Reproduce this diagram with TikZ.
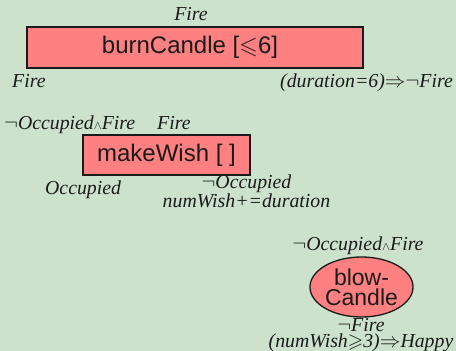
\documentclass[tikz,border=0pt]{standalone}
\usepackage{amssymb}
\usepackage{fontspec}
\setmainfont{Liberation Serif}
\setsansfont{Liberation Sans}
\usetikzlibrary{shapes.geometric}
\definecolor{bg}{HTML}{CCE2CC}
\definecolor{boxfill}{HTML}{FF8080}
\definecolor{ink}{HTML}{1A1A1A}
\newcommand{\andsym}{{\fontsize{13}{13}\selectfont$\wedge$}}
\begin{document}
\begin{tikzpicture}[x=1pt,y=-1pt,
  lbl/.style={font=\fontsize{19.8}{20}\selectfont\itshape, inner sep=0pt, text=ink},
  lbltwo/.style={lbl, align=center, font=\fontsize{19.8}{15.5}\selectfont\itshape},
  proc/.style={draw=ink, line width=1.3pt, fill=boxfill, inner sep=0pt,
    font=\sffamily\fontsize{24}{26}\selectfont, text=ink}]
\fill[bg] (0,0) rectangle (456,351);
\useasboundingbox (0,0) rectangle (456,351);
% burnCandle
\node[proc, minimum width=336pt, minimum height=41pt] (burn) at (195,47.5) {burnCandle [$\leqslant$6]\hspace*{10pt}};
\node[lbl, anchor=base] (burnTop) at (191,20) {Fire};
\node[lbl, anchor=base west] (burnPre) at (12,87) {Fire};
\node[lbl, anchor=base east] (burnPost) at (453,87) {(duration=6)${\Rightarrow}{\neg}$Fire};
% makeWish
\node[proc, minimum width=167pt, minimum height=40pt] (wish) at (166.5,155) {makeWish [ ]};
\node[lbl, anchor=base west] (wishPre) at (4,129) {$\neg$Occupied\andsym Fire};
\node[lbl, anchor=base west] (wishInv) at (157,129) {Fire};
\node[lbl, anchor=base west] (wishL) at (45,194) {Occupied};
\node[lbltwo, anchor=base] (wishR) at (246.5,207) {$\neg$Occupied\\numWish+=duration};
% blowCandle
\node[ellipse, draw=ink, line width=1.3pt, fill=boxfill, inner sep=0pt,
  minimum width=97pt, minimum height=60pt, align=center, text=ink,
  font=\sffamily\fontsize{23}{20}\selectfont] (blow) at (361.5,287) {blow-\\Candle};
\node[lbl, anchor=base] (blowPre) at (358,250) {$\neg$Occupied\andsym Fire};
\node[lbltwo, anchor=base] (blowPost) at (361,347) {$\neg$Fire\\(numWish$\geqslant$3)${\Rightarrow}$Happy};
\end{tikzpicture}
\end{document}
